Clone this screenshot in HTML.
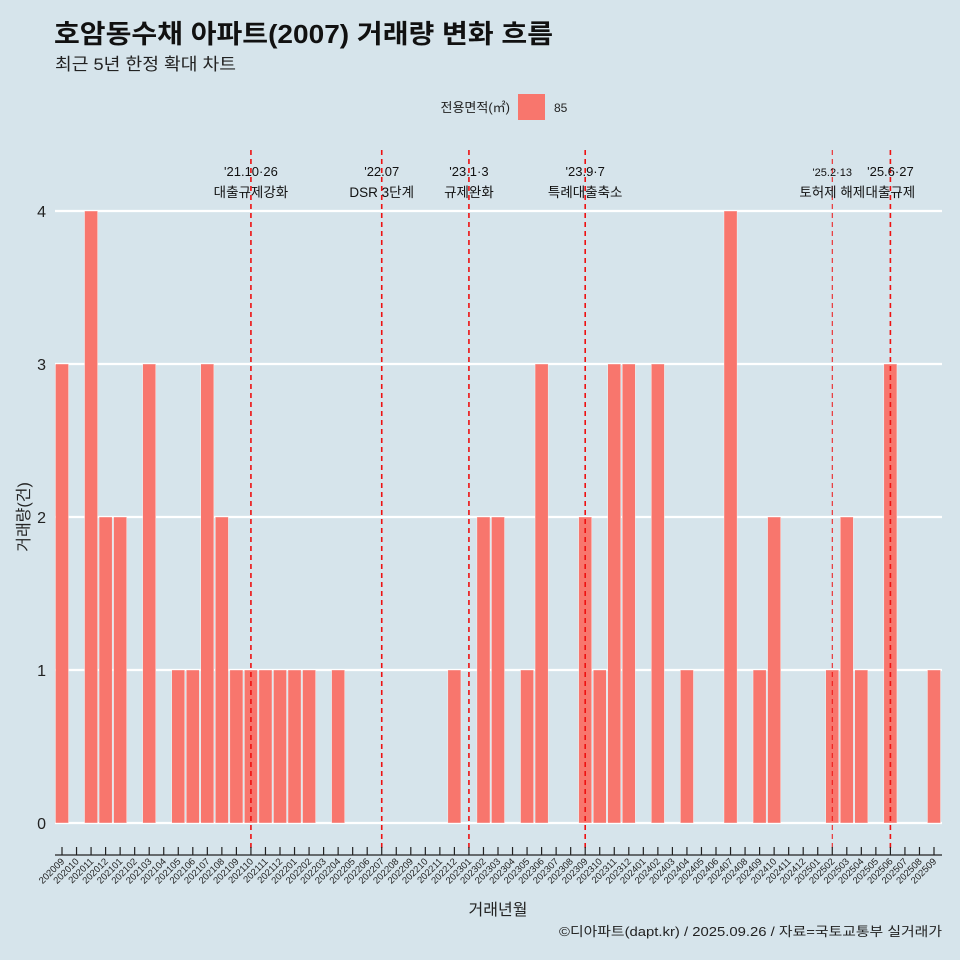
<!DOCTYPE html>
<html><head><meta charset="utf-8">
<style>
body{margin:0;background:#d6e4eb;}
svg{display:block;font-family:"Liberation Sans","Noto Sans CJK KR",sans-serif;}
</style></head>
<body>
<svg id="chart" width="960" height="960">
<rect width="960" height="960" fill="#d6e4eb"/>
<text x="54" y="43" font-size="26" font-weight="bold" fill="#111" textLength="499" lengthAdjust="spacingAndGlyphs">호암동수채 아파트(2007) 거래량 변화 흐름</text>
<text x="55" y="70" font-size="17" fill="#222" textLength="181" lengthAdjust="spacingAndGlyphs">최근 5년 한정 확대 차트</text>
<g>
<text x="510" y="112" font-size="13" text-anchor="end" fill="#222">전용면적(㎡)</text>
<rect x="518" y="94" width="27" height="26" fill="#f8766d"/>
<text x="554" y="112" font-size="12" fill="#222">85</text>
</g>
<g id="grid"></g>
<g id="bars"></g>
<g id="events"></g>
<g id="axis"></g>
<text x="29" y="517" font-size="16" fill="#222" text-anchor="middle" transform="rotate(-90 29 517)">거래량(건)</text>
<text x="498" y="915" font-size="16" fill="#222" text-anchor="middle">거래년월</text>
<text x="942" y="936" font-size="13" fill="#222" text-anchor="end" textLength="383" lengthAdjust="spacingAndGlyphs">©디아파트(dapt.kr) / 2025.09.26 / 자료=국토교통부 실거래가</text>
</svg>
<script>
const months=["202009","202010","202011","202012","202101","202102","202103","202104","202105","202106","202107","202108","202109","202110","202111","202112","202201","202202","202203","202204","202205","202206","202207","202208","202209","202210","202211","202212","202301","202302","202303","202304","202305","202306","202307","202308","202309","202310","202311","202312","202401","202402","202403","202404","202405","202406","202407","202408","202409","202410","202411","202412","202501","202502","202503","202504","202505","202506","202507","202508","202509"];
const counts=[3,0,4,2,2,0,3,0,1,1,3,2,1,1,1,1,1,1,0,1,0,0,0,0,0,0,0,1,0,2,2,0,1,3,0,0,2,1,3,3,0,3,0,1,0,0,4,0,1,2,0,0,0,1,2,1,0,3,0,0,1];
const yTicks=[0,1,2,3,4];
const eventMonths=["202110","202207","202301","202309","202502","202506"];
const eventDates=["'21.10·26","'22.07","'23.1·3","'23.9·7","'25.2·13","'25.6·27"];
const eventLabels=["대출규제강화","DSR 3단계","규제완화","특례대출축소","토허제 해제","대출규제"];

const NS="http://www.w3.org/2000/svg";
const x0=62,step=(934-62)/60,y0=823,unit=153;
const xs=m=>x0+months.indexOf(m)*step;
const ys=v=>y0-v*unit;
function mk(tag,attrs,parent){const e=document.createElementNS(NS,tag);for(const k in attrs)e.setAttribute(k,attrs[k]);parent.appendChild(e);return e;}
const grid=document.getElementById('grid'),bars=document.getElementById('bars'),ev=document.getElementById('events'),ax=document.getElementById('axis');
yTicks.forEach(t=>{
 const l=mk('line',{x1:55,x2:942,y1:ys(t),y2:ys(t),stroke:'#fff','stroke-width':2.2},grid);
 
 
 const tx=mk('text',{x:46,y:ys(t)+6,'font-size':16,'text-anchor':'end',fill:'#222'},grid);
 tx.textContent=t;
 
 
});
months.forEach((m,i)=>{
 const v=counts[i];
 if(v>0){
  const b=mk('rect',{x:xs(m)-step*0.45,y:ys(v),width:step*0.9,height:v*unit,fill:'#f8766d',stroke:'#fff','stroke-width':0.4},bars);
  
  
 }
 const tk=mk('line',{x1:xs(m),x2:xs(m),y1:847,y2:855,stroke:'#222','stroke-width':1.2},ax);
 
 
 const lb=mk('text',{x:xs(m)+3,y:862,'font-size':9.5,'text-anchor':'end',fill:'#222',transform:`rotate(-45 ${xs(m)+3} 862)`},ax);
 lb.textContent=m;
 
 
});
const al=mk('line',{x1:55,x2:942,y1:855,y2:855,stroke:'#222','stroke-width':1.2},ax);


eventMonths.forEach((m,i)=>{
 const x=xs(m);
 const thin=m==="202502";
 const l=mk('line',{x1:x,x2:x,y1:150,y2:852,stroke:'#ee1111','stroke-width':thin?1:1.6,'stroke-dasharray':'5,4'},ev);
 
 
 const d=mk('text',{x:x,y:176,'font-size':thin?11:13,'text-anchor':'middle',fill:'#111'},ev);
 d.textContent=eventDates[i];
 
 
 const t=mk('text',{x:x,y:197,'font-size':13.5,'text-anchor':'middle',fill:'#111'},ev);
 t.textContent=eventLabels[i];
 
 
});
</script>
</body></html>
